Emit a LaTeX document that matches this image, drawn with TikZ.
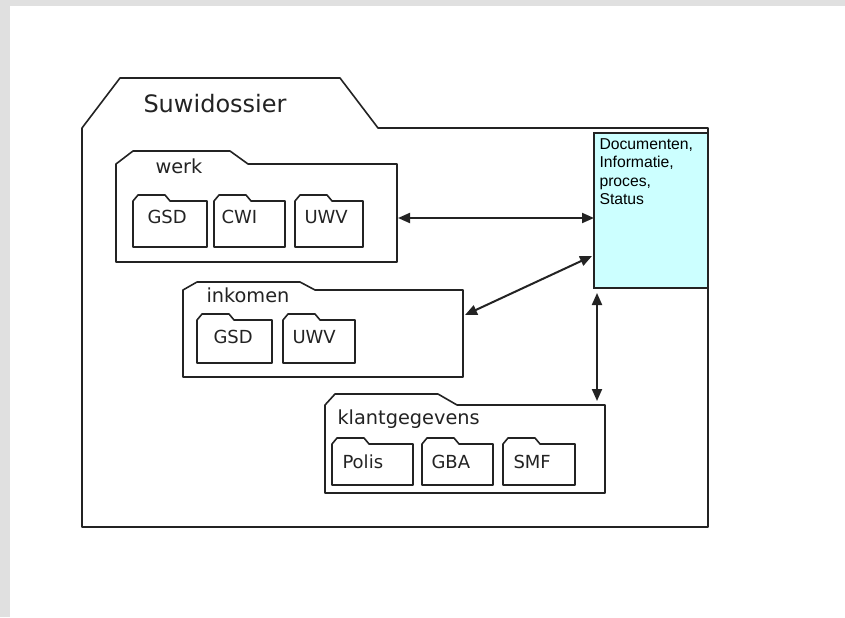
\documentclass[tikz,border=0pt]{standalone}
\usepackage{fontspec}
\setmainfont{DejaVu Sans}
\newfontfamily\arialfont{Liberation Sans}
\usetikzlibrary{calc,fit,arrows.meta}

\definecolor{panegray}{RGB}{224,224,224}
\definecolor{infocyan}{RGB}{204,255,255}
\definecolor{inkline}{RGB}{35,35,35}

\tikzset{every picture/.style={line width=0.75pt}}
\tikzset{
  folderline/.style={draw=inkline, line width=1.2pt, line join=round},
  folder/.style n args={4}{inner sep=0pt, outer sep=0pt, append after command={\pgfextra{
      \draw[folderline] (\tikzlastnode.south west) -- (\tikzlastnode.north west) -- ++(#1,-#2)
        -- ($(\tikzlastnode.north west)+(#3,-#2)$) -- ($(\tikzlastnode.north west)+(#4,0)$)
        -- (\tikzlastnode.north east) -- (\tikzlastnode.south east) -- cycle;}}},
  subfolder/.style={folder={5}{6}{32}{37}},
  infobox/.style={inner sep=0pt, outer sep=0pt, draw=inkline, line width=1.5pt, fill=infocyan},
  maintitle/.style={anchor=base west, inner sep=0pt, text=inkline, font=\fontsize{18}{22}\selectfont},
  foldertitle/.style={anchor=base west, inner sep=0pt, text=inkline, font=\fontsize{14.5}{17}\selectfont},
  subtitle/.style={anchor=base west, inner sep=0pt, text=inkline, font=\fontsize{13.5}{16}\selectfont},
  infotext/.style={anchor=north west, inner sep=0pt, align=left, text=black, font=\arialfont\fontsize{11.8}{13.9}\selectfont},
  link/.style={{Triangle[length=9pt,width=7.5pt]}-{Triangle[length=9pt,width=7.5pt]}, draw=inkline, line width=1.5pt}
}

\begin{document}
\begin{tikzpicture}[x=0.75pt,y=0.75pt,yscale=-1,xscale=1]
%background pane
\fill[panegray] (0,0) rectangle (845,617);
\fill[white] (10,6) rectangle (845,617);

%Shape: Folder [id:suwi]
\node[folder={38}{50}{258}{296}, fit={(82,128) (708,527)}] (suwi) {};
%Shape: Rectangle [id:info]
\node[infobox, fit={(594,133) (708,288)}] (info) {};

%Shape: Folder [id:werk]
\node[folder={17}{13}{114}{132}, fit={(116,164) (397,262)}] (werk) {};
\node[subfolder, fit={(133,201) (207,247)}] (werkgsd) {};
\node[subfolder, fit={(214,201) (285,247)}] (werkcwi) {};
\node[subfolder, fit={(295,201) (363,247)}] (werkuwv) {};
%Shape: Folder [id:inkomen]
\node[folder={14}{8}{117}{132}, fit={(183,290) (463,377)}] (inkomen) {};
\node[subfolder, fit={(197,320) (272,363)}] (inkgsd) {};
\node[subfolder, fit={(283,320) (355,363)}] (inkuwv) {};
%Shape: Folder [id:klant]
\node[folder={10}{11}{113}{132}, fit={(325,405) (605,493)}] (klant) {};
\node[subfolder, fit={(332,444) (413,485)}] (polis) {};
\node[subfolder, fit={(422,444) (493,485)}] (gba) {};
\node[subfolder, fit={(503,444) (575,485)}] (smf) {};

%Straight Lines [id:werk-info]
\draw[link] ($(werk.east)+(1,5)$) -- ($(info.west)+(0,7.5)$);
%Straight Lines [id:inkomen-info]
\draw[link] ($(inkomen.east)+(2,-18.5)$) -- ($(info.west)+(-2,45.5)$);
%Straight Lines [id:info-klant]
\draw[link] ($(info.south west)+(3,5)$) -- ($(klant.north east)+(-8,-4)$);

% Text Node
\node[maintitle] (suwitext) at (143,113) {Suwidossier};
% Text Node
\node[infotext] (infolabel) at (599,138) {Documenten,\\Informatie,\\proces,\\Status};
% Text Node
\node[foldertitle] (werktext) at (155,173) {werk};
\node[subtitle] (werkgsdtext) at (147,223) {GSD};
\node[subtitle] (werkcwitext) at (221,223) {CWI};
\node[subtitle] (werkuwvtext) at (304,223) {UWV};
% Text Node
\node[foldertitle] (inkomentext) at (206,302) {inkomen};
\node[subtitle] (inkgsdtext) at (213,343) {GSD};
\node[subtitle] (inkuwvtext) at (292,343) {UWV};
% Text Node
\node[foldertitle] (klanttext) at (337,424) {klantgegevens};
\node[subtitle] (polistext) at (342,468) {Polis};
\node[subtitle] (gbatext) at (431,468) {GBA};
\node[subtitle] (smftext) at (513,468) {SMF};

\end{tikzpicture}
\end{document}
